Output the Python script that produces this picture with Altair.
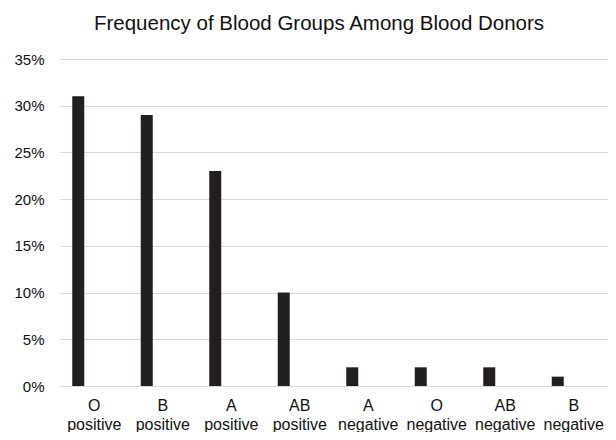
import altair as alt
import pandas as pd

groups = ["O positive", "B positive", "A positive", "AB positive",
          "A negative", "O negative", "AB negative", "B negative"]
shares = [0.31, 0.29, 0.23, 0.10, 0.02, 0.02, 0.02, 0.01]

df = pd.DataFrame({"group": groups, "share": shares})

FONT = "Liberation Sans"

chart = alt.Chart(df).mark_bar(size=12, xOffset=-16, color="#231f20").encode(
    x=alt.X("group:N", sort=groups, title=None,
            scale=alt.Scale(paddingInner=0, paddingOuter=0),
            axis=alt.Axis(labelAngle=0, labelExpr="split(datum.label, ' ')",
                          ticks=False, domain=False, grid=False,
                          labelFont=FONT, labelFontSize=16, labelColor="#111111",
                          labelPadding=11, labelLineHeight=19,
                          labelBaseline="top")),
    y=alt.Y("share:Q", title=None,
            scale=alt.Scale(domain=[0, 0.35], nice=False),
            axis=alt.Axis(format=".0%", values=[0, 0.05, 0.10, 0.15, 0.20, 0.25, 0.30, 0.35],
                          ticks=False, domain=False, gridColor="#d9d9d9", gridWidth=1.2,
                          labelFont=FONT, labelFontSize=15, labelColor="#111111",
                          labelPadding=16)),
).properties(
    width=548, height=327,
    title=alt.TitleParams("Frequency of Blood Groups Among Blood Donors",
                          font=FONT, fontSize=20.5, fontWeight="normal",
                          color="#111111", anchor="middle", offset=18, dx=-15),
    autosize=alt.AutoSizeParams(type="none"),
    padding={"left": 52, "top": 51, "right": 0, "bottom": 46},
).configure_view(stroke=None)

chart.save("out.html", embed_options={"renderer": "svg", "actions": False})
